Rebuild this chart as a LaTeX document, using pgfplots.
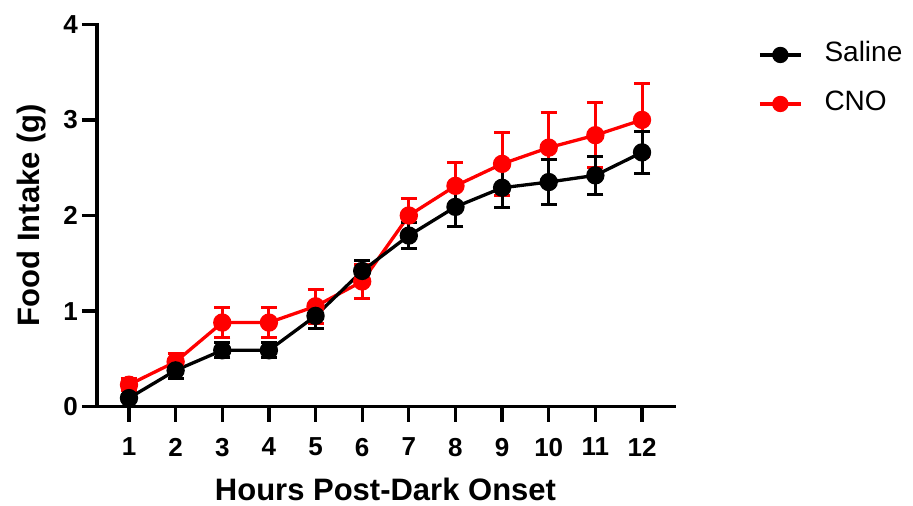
\documentclass[border=0pt]{standalone}
\usepackage{fontspec}
\setmainfont{Liberation Sans}
\usepackage{pgfplots}
\pgfplotsset{compat=1.18}
\definecolor{cnored}{RGB}{255,0,0}

\pgfplotstableread{
x   y     err
1   0.09  0.04
2   0.38  0.08
3   0.59  0.08
4   0.59  0.08
5   0.95  0.13
6   1.42  0.11
7   1.79  0.14
8   2.09  0.20
9   2.29  0.21
10  2.35  0.24
11  2.42  0.20
12  2.66  0.22
}\saline

\pgfplotstableread{
x   y     err
1   0.23  0.06
2   0.47  0.09
3   0.88  0.16
4   0.88  0.16
5   1.05  0.18
6   1.31  0.18
7   2.00  0.18
8   2.31  0.24
9   2.54  0.33
10  2.71  0.37
11  2.84  0.34
12  3.00  0.38
}\cno

\begin{document}
\begin{tikzpicture}
\begin{axis}[
    at={(97pt,99.3pt)}, anchor=south west,
    scale only axis,
    width=577pt, height=382.4pt,
    xmin=0.314, xmax=12.686,
    ymin=0, ymax=4,
    xtick={1,...,12},
    ytick={0,1,2,3,4},
    axis x line*=bottom,
    axis y line*=left,
    axis line style={line width=3.3pt, line cap=rect},
    tick style={line width=3.3pt, black},
    tick align=outside,
    major tick length=15pt,
    minor tick num=0,
    clip=false,
    /pgf/number format/assume math mode=true,
    xticklabel={\bfseries\fontsize{26}{26}\selectfont\pgfmathprintnumber{\tick}},
    yticklabel={\bfseries\fontsize{26}{26}\selectfont\pgfmathprintnumber{\tick}},
    yticklabel style={inner sep=4pt},
    xticklabel style={inner sep=2pt, yshift=-14pt},
    xlabel={Hours Post-Dark Onset},
    ylabel={Food Intake (g)},
    every axis x label/.style={at={(axis description cs:0.5,-0.2466)}, anchor=base,
        font=\bfseries\fontsize{31}{31}\selectfont},
    every axis y label/.style={at={(axis description cs:-0.0988,0.501)}, anchor=base, rotate=90,
        font=\bfseries\fontsize{31}{31}\selectfont},
    legend style={
        at={(axis description cs:1.1456,0.9543)}, anchor=north west,
        draw=none, fill=none, inner sep=0pt,
        font=\fontsize{28}{28}\selectfont,
        row sep=23pt, column sep=22pt,
        nodes={inner sep=0pt, text height=20pt, text depth=6pt},
    },
    legend cell align=left,
    reverse legend,
    legend image code/.code={
        \draw[#1, mark repeat=2, mark phase=2, mark size=6.5pt]
            plot coordinates {(0pt,0pt) (20.5pt,0pt) (41pt,0pt)};
    },
]

\addplot[
    cnored, line width=3.3pt,
    mark=*, mark size=7.5pt, mark options={solid, fill=cnored},
    error bars/.cd, y dir=both, y explicit,
    error bar style={line width=3pt, cnored},
    error mark options={rotate=90, mark size=8pt, line width=3pt, cnored},
] table[x=x, y=y, y error=err] {\cno};
\addlegendentry{CNO}

\addplot[
    black, line width=3.3pt,
    mark=*, mark size=7.5pt, mark options={solid, fill=black},
    error bars/.cd, y dir=both, y explicit,
    error bar style={line width=3pt, black},
    error mark options={rotate=90, mark size=8pt, line width=3pt, black},
] table[x=x, y=y, y error=err] {\saline};
\addlegendentry{Saline}

\end{axis}
\pgfresetboundingbox
\path[use as bounding box] (0pt,0pt) rectangle (913pt,506pt);
\end{tikzpicture}
\end{document}
